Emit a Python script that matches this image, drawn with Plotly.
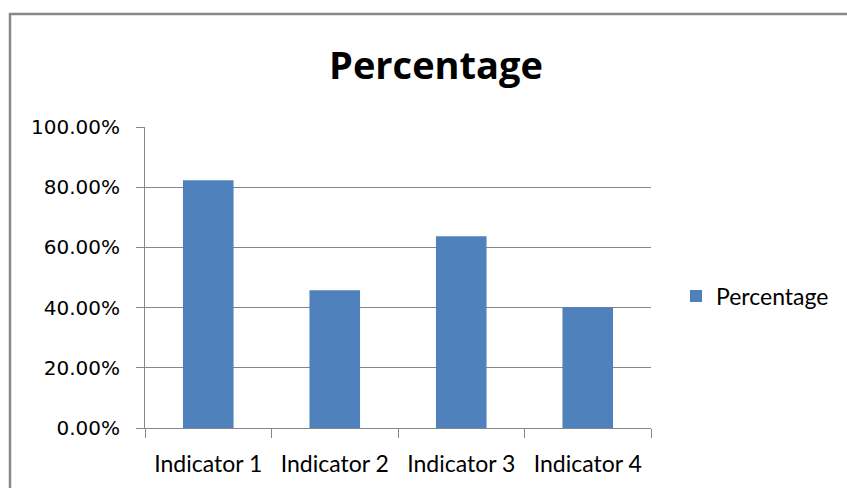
import plotly.graph_objects as go

categories = ["Indicator 1", "Indicator 2", "Indicator 3", "Indicator 4"]
percentage = [0.823, 0.458, 0.637, 0.401]
series_name = "Percentage"
chart_title = "Percentage"

W, H = 847, 488
L, R, T, B = 145, 196, 127, 60
pw = W - L - R
ph = H - T - B

def px_x(px):
    return (px - L) / pw

def px_y(py):
    return (H - B - py) / ph

grey = "#868686"

fig = go.Figure()
fig.add_trace(go.Bar(
    x=categories, y=percentage, name=series_name,
    marker=dict(color="#4f81bd", line=dict(width=0)),
    showlegend=True,
))

fig.update_layout(
    width=W, height=H,
    margin=dict(l=L, r=R, t=T, b=B),
    paper_bgcolor="white", plot_bgcolor="white",
    bargap=0.6,
    title=dict(text=chart_title, x=px_x(436), xref="paper", xanchor="center",
               y=1 - 66 / H, yanchor="middle",
               font=dict(family="Open Sans", size=38, color="black", weight="bold")),
    showlegend=True,
    legend=dict(x=px_x(676), xanchor="left", y=px_y(296), yanchor="middle",
                font=dict(family="Lato", size=23, color="black"),
                bgcolor="rgba(0,0,0,0)"),
    xaxis=dict(showline=True, linecolor=grey, linewidth=1,
               ticks="outside", tickson="boundaries", ticklen=9, tickcolor=grey,
               tickfont=dict(family="Lato", size=23, color="black"),
               ticklabelstandoff=15, showgrid=False),
    yaxis=dict(range=[0, 1], dtick=0.2, tickformat=".2%",
               showline=True, linecolor=grey, linewidth=1,
               ticks="outside", ticklen=8, tickcolor=grey,
               showgrid=True, gridcolor=grey, gridwidth=1,
               tickfont=dict(family="DejaVu Sans", size=20, color="black"),
               ticklabelstandoff=12, zeroline=False),
    shapes=[dict(type="rect", xref="paper", yref="paper",
                 x0=px_x(10), x1=px_x(900), y0=px_y(540), y1=px_y(14),
                 line=dict(color="#888888", width=2.5), fillcolor="rgba(0,0,0,0)")],
)

fig.write_html("out.html")
